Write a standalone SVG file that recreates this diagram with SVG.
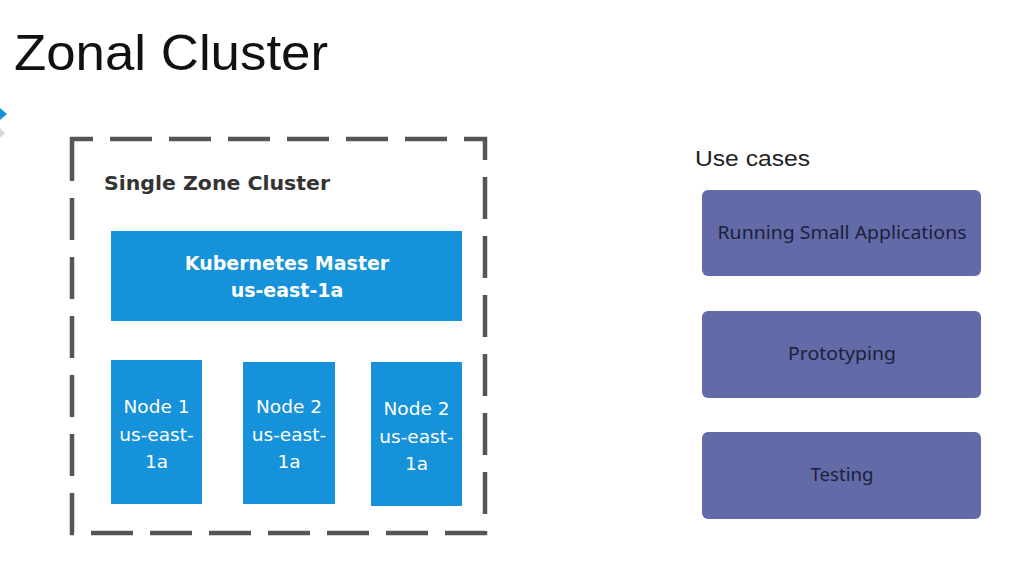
<svg xmlns="http://www.w3.org/2000/svg" width="1027" height="578" viewBox="0 0 1027 578">
<style>
.title{font-family:"Liberation Sans",Arial,sans-serif;font-size:50px;fill:#111}
.frame{fill:none;stroke:#555;stroke-width:4.5;stroke-dasharray:42 17}
.lbl{font-family:"DejaVu Sans","Liberation Sans",sans-serif;font-weight:bold;font-size:20px;fill:#333}
.blue{fill:#1592d9}
.wb{font-family:"DejaVu Sans","Liberation Sans",sans-serif;font-weight:bold;font-size:19px;fill:#fff;text-anchor:middle}
.wn{font-family:"DejaVu Sans","Liberation Sans",sans-serif;font-size:18.5px;fill:#fff;text-anchor:middle}
.uc{font-family:"Liberation Sans",Arial,sans-serif;font-size:22px;fill:#222}
.pur{fill:#626ba8}
.pt{font-family:"Noto Sans","Liberation Sans",sans-serif;font-size:18px;fill:#1d1f3a;text-anchor:middle}
</style>
<rect width="1027" height="578" fill="#fff"/>
<polygon points="0,108 7,114 0,120" fill="#1592d9"/>
<polygon points="0,128 5,133 0,138" fill="#d8d8d8"/>
<text class="title" x="14" y="70" textLength="314" lengthAdjust="spacingAndGlyphs">Zonal Cluster</text>
<g id="cluster">
<path class="frame" d="M72,160 V139 H485 V533 H72 Z"/>
<text class="lbl" x="104" y="190" textLength="226" lengthAdjust="spacingAndGlyphs">Single Zone Cluster</text>
</g>
<g id="master">
<rect class="blue" x="111" y="231" width="351" height="90"/>
<text class="wb" x="287" y="270">Kubernetes Master</text>
<text class="wb" x="287" y="297">us-east-1a</text>
</g>
<g id="node1">
<rect class="blue" x="111" y="360" width="91" height="144"/>
<text class="wn" x="156.5" y="413">Node 1</text>
<text class="wn" x="156.5" y="441">us-east-</text>
<text class="wn" x="156.5" y="468">1a</text>
</g>
<g id="node2">
<rect class="blue" x="243" y="362" width="92" height="142"/>
<text class="wn" x="289" y="413">Node 2</text>
<text class="wn" x="289" y="441">us-east-</text>
<text class="wn" x="289" y="468">1a</text>
</g>
<g id="node3">
<rect class="blue" x="371" y="362" width="91" height="144"/>
<text class="wn" x="416.5" y="415">Node 2</text>
<text class="wn" x="416.5" y="443">us-east-</text>
<text class="wn" x="416.5" y="470">1a</text>
</g>
<text class="uc" x="695" y="166" textLength="115" lengthAdjust="spacingAndGlyphs">Use cases</text>
<g id="uc1">
<rect class="pur" x="702" y="190" width="279" height="86" rx="6"/>
<text class="pt" x="842" y="239" textLength="249" lengthAdjust="spacingAndGlyphs">Running Small Applications</text>
</g>
<g id="uc2">
<rect class="pur" x="702" y="311" width="279" height="87" rx="6"/>
<text class="pt" x="842" y="360" textLength="108" lengthAdjust="spacingAndGlyphs">Prototyping</text>
</g>
<g id="uc3">
<rect class="pur" x="702" y="432" width="279" height="87" rx="6"/>
<text class="pt" x="842" y="481" textLength="63" lengthAdjust="spacingAndGlyphs">Testing</text>
</g>
<g id="connectors"/>
</svg>
